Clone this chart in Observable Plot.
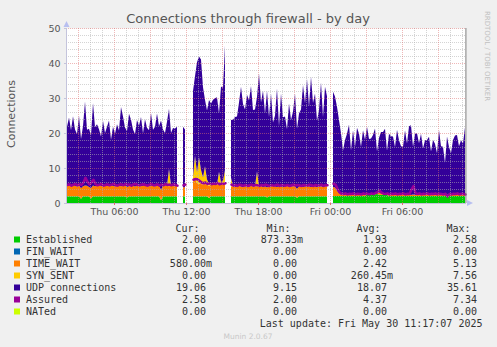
<!DOCTYPE html>
<html><head><meta charset="utf-8">
<script src="https://cdn.jsdelivr.net/npm/d3@7"></script>
<script src="https://cdn.jsdelivr.net/npm/@observablehq/plot@0.6"></script>
<style>
html,body{margin:0;padding:0;background:#f0f0f0;}
#wrap{position:relative;width:497px;height:347px;overflow:hidden;background:#f0f0f0;}
#wrap svg{position:absolute;left:0;top:0;}
</style></head><body><div id="wrap"></div>
<script>
// ---- time frame (10-minute samples) ----
const startTime = new Date(2025, 4, 29, 2, 0, 0);
const endTime = new Date(2025, 4, 30, 11, 20, 0);
const lastUpdate = new Date(2025, 4, 30, 11, 17, 7);
const sampleMinutes = 10;

// ---- series values (200 samples, null = no data) ----
const established = [
1.9,1.9,1.9,1.9,1.9,1.9,1.9,1.2,1.9,1.9,
1.9,1.9,1.3,1.9,1.9,1.9,1.9,1.9,1.9,1.9,
1.9,1.9,1.9,1.9,1.9,1.9,1.9,1.9,1.9,1.9,
1.6,1.9,1.9,1.9,1.9,1.9,1.9,1.9,1.9,1.9,
1.9,1.9,1.9,1.9,1.9,1.9,1.9,0.87,1.9,1.9,
1.9,1.9,1.9,1.9,1.9,1.9,null,null,1.9,1.9,
null,null,null,1.9,1.9,1.9,1.9,1.9,1.9,1.9,
1.9,1.4,1.9,1.9,1.9,1.9,1.9,1.9,1.9,1.9,
null,null,1.9,1.9,1.9,1.9,1.9,1.9,1.9,1.9,
1.9,1.9,1.9,1.9,1.9,1.9,1.9,1.9,1.9,1.9,
1.6,1.9,1.9,1.9,1.9,1.9,1.9,1.9,1.9,1.9,
1.9,1.9,1.9,1.9,1.9,1.5,1.9,1.9,1.9,1.9,
1.9,1.9,1.9,1.9,1.9,1.9,1.9,1.9,1.9,1.9,
1.9,null,null,2.0,2.0,2.0,2.0,2.0,2.0,2.0,
2.0,2.0,2.0,2.0,2.0,2.0,2.0,2.0,2.0,2.0,
2.4,2.4,2.3,2.4,2.5,2.58,2.4,2.3,2.4,2.4,
2.3,2.0,2.0,2.0,2.0,2.0,2.0,2.0,2.0,2.0,
2.0,2.0,2.0,2.0,2.0,2.0,2.0,2.0,2.0,2.0,
2.0,2.0,2.0,2.0,2.0,2.0,2.0,2.0,2.0,2.0,
2.0,2.0,2.0,2.0,2.0,2.0,2.0,2.0,2.0,2.00];

const finWait = established.map(v => v == null ? null : 0);

const timeWait = [
3.0,3.2,2.9,3.1,3.0,2.8,3.2,3.0,2.9,3.1,
3.0,2.7,3.0,3.1,2.9,3.0,3.2,3.0,2.8,3.1,
3.0,2.9,3.1,3.0,2.8,3.0,3.2,2.9,3.0,3.1,
3.0,2.9,3.1,3.0,2.8,3.0,3.1,2.9,3.0,3.2,
3.0,2.9,3.1,3.0,2.8,3.0,3.1,2.9,3.0,3.1,
3.0,2.9,3.1,3.0,2.9,3.0,null,null,2.6,2.6,
null,null,null,4.2,5.13,3.8,3.6,3.5,3.4,3.6,
3.3,3.5,3.4,3.6,3.5,3.3,3.5,3.6,3.4,3.5,
null,null,2.8,2.9,2.7,2.8,3.0,2.8,2.6,2.9,
2.8,2.7,3.0,2.8,2.9,2.7,2.8,3.0,2.6,2.8,
2.9,2.7,2.8,3.0,2.8,2.7,2.9,2.8,2.6,2.8,
3.0,2.7,2.8,2.9,2.8,2.6,2.8,2.9,2.7,2.8,
3.0,2.8,2.7,2.9,2.8,2.6,2.8,2.9,2.7,2.8,
2.9,null,null,2.6,2.4,1.5,0.8,0.4,0.3,0.4,
0.3,0.5,0.4,0.3,0.4,0.5,0.3,0.4,0.3,0.5,
0.4,0.3,0.5,0.4,0.3,0.4,0.6,0.5,0.4,0.3,
0.4,0.3,0.5,0.4,0.3,0.4,0.3,0.5,0.4,0.3,
0.4,0.5,0.3,0.4,0.3,0.4,0.5,0.3,0.4,0.3,
0.4,0.3,0.5,0.4,0.3,0.4,0.3,0.5,0.4,0.3,
0.4,0.3,0.5,0.4,0.3,0.4,0.5,0.3,0.4,0.58];

const synSent = [
0,0,0,0,0,0,0,0,0,0,
0,0,0,0,0,0,0,0,0,0,
0,0,0,0,0,0,0,0,0,0,
0,0,0,0,0,0,0,0,0,0,
0,0,0,0,0,0,0,0,0,0,
0,5.0,0,0,0,0,null,null,0,0,
null,null,null,1.5,6.5,3.0,7.56,4.0,2.0,5.0,
1.5,0.5,0,0,0,0,3.5,0.5,1.0,4.0,
null,null,2.5,0,0,0,0,0,0,0,
0,0,0,0,0,4.5,0,0,0,0,
0,0,0,0,0,0,0,0,0,0,
0,0,0,0,0,0,0,0,0,0,
0,0,0,0,0,0,0,0,0,0,
0,null,null,0,0,0,0,0,0,0,
0,0,0,0,0,0,0,0,0,0,
0,0,0,0,0,0,0,0,0,0,
0,0,0,0,0,0,0,0,0,0,
0,0,0,0,0,0,0,0,0,0,
0,0,0,0,0,0,0,0,0,0,
0,0,0,0,0,0,0,0,0,0];

const udpConnections = [
16.9,19.3,16.0,19.8,16.1,15.0,19.8,14.1,17.1,24.0,
16.0,16.6,15.0,23.6,16.9,17.6,16.0,14.1,18.8,15.0,
16.9,18.8,13.1,16.9,15.1,17.6,15.6,22.6,19.8,16.6,
16.0,20.7,18.8,16.1,15.0,18.8,17.1,19.8,15.0,18.8,
16.6,16.0,20.7,16.0,17.1,20.7,16.9,19.8,16.1,15.0,
18.3,17.1,15.0,16.5,16.5,16.9,null,null,17.3,16.5,
null,null,null,24.4,22.7,31.5,28.8,31.6,25.8,19.0,
19.7,24.0,23.1,24.0,24.5,25.0,16.7,27.3,26.6,35.61,
null,null,16.5,19.0,20.0,20.0,23.8,28.5,23.8,21.9,
26.2,24.7,28.5,21.9,21.9,21.2,32.3,23.8,27.6,20.9,
27.6,20.0,26.6,18.1,20.3,28.1,17.1,26.6,20.0,20.0,
16.2,23.8,19.0,21.3,26.6,17.1,20.9,21.9,29.1,23.8,
30.5,22.8,31.5,23.8,26.6,19.0,21.9,29.6,20.0,28.5,
25.7,null,null,27.2,26.0,24.0,20.9,17.5,12.7,15.6,
17.5,19.9,12.7,18.5,13.7,19.0,17.5,13.7,18.5,15.6,
19.0,15.6,15.6,16.6,18.5,11.8,15.6,17.5,17.5,18.5,
12.2,17.5,16.6,16.6,13.7,18.5,15.6,13.7,13.7,18.5,
14.6,19.4,19.9,13.7,17.5,17.5,14.6,17.5,13.2,15.6,
15.6,16.6,12.2,15.6,14.6,11.8,18.5,13.7,13.7,9.15,
16.6,13.7,11.8,15.6,17.0,17.0,13.7,15.6,14.6,19.06];

const assured = [
5.3,5.5,5.1,5.4,5.6,5.2,5.5,5.3,6.0,7.34,
6.2,5.4,6.0,6.8,5.5,5.2,5.4,5.6,5.1,5.3,
5.5,5.2,5.4,5.6,5.3,5.1,5.4,5.5,5.2,5.6,
5.3,5.4,5.1,5.5,5.6,5.3,5.2,5.4,5.5,5.3,
5.1,5.4,5.6,5.2,5.3,5.5,5.1,5.4,5.2,5.6,
5.3,5.4,5.2,5.5,5.3,5.1,null,null,5.2,5.4,
null,null,null,6.8,7.0,6.9,6.5,6.0,5.8,6.0,
5.6,5.8,5.5,5.7,5.6,5.9,5.5,5.7,5.6,5.8,
null,null,5.4,5.1,5.3,5.0,5.4,5.2,5.1,5.3,
5.0,5.2,5.4,5.1,5.3,5.2,5.0,5.3,5.1,5.4,
5.2,5.0,5.3,5.1,5.2,5.4,5.0,5.3,5.2,5.1,
5.3,5.0,5.2,5.4,5.1,5.3,5.2,5.0,5.3,5.2,
5.1,5.4,5.2,5.0,5.3,5.1,5.2,5.4,5.0,5.3,
5.2,null,null,5.6,5.4,4.2,3.2,2.8,2.7,2.9,
2.6,2.8,2.7,2.9,2.6,2.8,2.7,2.6,2.9,2.7,
2.8,2.6,2.9,2.7,3.0,3.2,3.7,3.1,2.8,2.7,
2.9,2.6,2.8,2.7,2.9,2.6,2.8,2.7,2.9,2.6,
2.8,2.7,4.0,5.0,3.0,2.7,2.9,2.6,2.8,2.7,
2.9,2.6,2.8,2.7,2.9,2.6,2.8,2.7,2.6,2.8,
2.0,2.7,2.6,2.8,2.7,2.9,2.6,2.8,2.7,2.58];

// ---- legend ----
const legendNames = ["Established","FIN_WAIT","TIME_WAIT","SYN_SENT","UDP connections","Assured","NATed"];
const legendColors = ["#00CC00","#0066B3","#FF8000","#FFCC00","#330099","#990099","#CCFF00"];
const curValues = ["2.00","0.00","580.00m","0.00","19.06","2.58","0.00"];
const minValues = ["873.33m","0.00","0.00","0.00","9.15","2.00","0.00"];
const avgValues = ["1.93","0.00","2.42","260.45m","18.07","4.37","0.00"];
const maxValues = ["2.58","0.00","5.13","7.56","35.61","7.34","0.00"];

// ---- axis ticks ----
const yTicks = [0,10,20,30,40,50];
const xTickTimes = ["2025-05-29T06:00","2025-05-29T12:00","2025-05-29T18:00","2025-05-30T00:00","2025-05-30T06:00"].map(s => new Date(s));

// ---- stacked layers (linear between samples, like RRD areas) ----
const stackLayers = [
  {values: established, color: "#00CC00"},
  {values: finWait, color: "#0066B3"},
  {values: timeWait, color: "#FF8000"},
  {values: synSent, color: "#FFCC00"},
  {values: udpConnections, color: "#330099"}
];
const stepMs = sampleMinutes * 60000;
const centerTime = i => new Date(+startTime + (i + 0.5) * stepMs);
const layerPts = stackLayers.map(() => []);
for (let i = 0; i < established.length; i++) {
  let base = 0;
  const ok = udpConnections[i] != null;
  stackLayers.forEach((L, k) => {
    const v = ok ? (L.values[i] || 0) : null;
    layerPts[k].push({t: centerTime(i), y1: ok ? base : NaN, y2: ok ? base + v : NaN});
    if (ok) base += v;
  });
}
const assuredPts = assured.map((v, i) => ({t: centerTime(i), v: v == null ? NaN : v}));

const minorY = d3.range(2, 50, 2).filter(v => v % 10 !== 0);
const majorY = [10,20,30,40,50];
const hours = d3.timeHour.range(new Date(+startTime + 1), endTime);
const minorX = hours.filter(h => h.getHours() % 3 !== 0);
const majorX = hours.filter(h => h.getHours() % 3 === 0);

const chart = Plot.plot({
  width: 497, height: 220,
  marginLeft: 66, marginRight: 31, marginTop: 28, marginBottom: 17,
  style: {background: "transparent", fontFamily: "DejaVu Sans", fontSize: "9.5px", color: "#555"},
  x: {type: "time", domain: [startTime, endTime]},
  y: {domain: [0, 50]},
  marks: [
    Plot.frame({fill: "white", stroke: null}),
    ...stackLayers.map((L, k) => Plot.areaY(layerPts[k], {x: "t", y1: "y1", y2: "y2", fill: L.color, curve: "linear"})),
    Plot.line(assuredPts, {x: "t", y: "v", stroke: "#990099", strokeWidth: 2.5}),
    Plot.ruleY(minorY, {stroke: "#b0b0b0", strokeOpacity: 0.55, strokeDasharray: "1,1"}),
    Plot.ruleX(minorX, {stroke: "#b0b0b0", strokeOpacity: 0.55, strokeDasharray: "1,1"}),
    Plot.ruleY(majorY, {stroke: "#e07070", strokeOpacity: 0.5, strokeDasharray: "1,1"}),
    Plot.ruleX(majorX, {stroke: "#e07070", strokeOpacity: 0.5, strokeDasharray: "1,1"}),
    Plot.ruleY([0], {stroke: "#c4c4dc"}),
    Plot.ruleX([startTime], {stroke: "#c4c4dc"}),
    Plot.ruleX([lastUpdate], {stroke: "#7a7a7a"}),
    Plot.axisY({ticks: yTicks, tickSize: 2, tickPadding: 4, stroke: "#c4c4dc", fill: "#555", label: null}),
    Plot.axisX({ticks: xTickTimes, tickFormat: d3.timeFormat("%a %H:%M"), tickSize: 2, tickPadding: 3, stroke: "#e07070", fill: "#555", label: null})
  ]
});
const wrap = d3.select("#wrap");
wrap.node().appendChild(chart);

// ---- overlay: title, labels, legend ----
const ov = wrap.append("svg").attr("width", 497).attr("height", 347).style("pointer-events", "none");
ov.append("text").attr("x", 248).attr("y", 23).attr("text-anchor", "middle")
  .attr("font-family", "DejaVu Sans").attr("font-size", 13).attr("fill", "#555")
  .text("Connections through firewall - by day");
ov.append("text").attr("transform", "translate(15,114) rotate(-90)").attr("text-anchor", "middle")
  .attr("font-family", "DejaVu Sans").attr("font-size", 11).attr("fill", "#555").text("Connections");
ov.append("text").attr("transform", "translate(485,56) rotate(90)").attr("text-anchor", "middle")
  .attr("font-family", "DejaVu Sans").attr("font-size", 7).attr("fill", "#c0c0c0").text("RRDTOOL / TOBI OETIKER");
// axis arrows
ov.append("path").attr("d", "M63.5,27 L66.5,21 L69.5,27 Z").attr("fill", "#b8bff0");
ov.append("path").attr("d", "M467,200 L473,203 L467,206 Z").attr("fill", "#b8bff0");

const mono = "DejaVu Sans Mono";
const colRight = [206, 297, 387, 477];
const headers = ["Cur:","Min:","Avg:","Max:"];
headers.forEach((h, j) => ov.append("text").attr("x", colRight[j] - 6.5).attr("y", 232).attr("text-anchor", "end")
  .attr("font-family", mono).attr("font-size", 10).attr("fill", "#333").text(h));
const cols = [curValues, minValues, avgValues, maxValues];
legendNames.forEach((name, r) => {
  const y = 243 + r * 12;
  ov.append("rect").attr("x", 14).attr("y", y - 6.5).attr("width", 6).attr("height", 6).attr("fill", legendColors[r]);
  ov.append("text").attr("x", 26).attr("y", y).attr("font-family", mono).attr("font-size", 10).attr("fill", "#333").text(name);
  cols.forEach((c, j) => {
    const s = c[r];
    const x = colRight[j] + (s.endsWith("m") ? 6.02 : 0);
    ov.append("text").attr("x", x).attr("y", y).attr("text-anchor", "end")
      .attr("font-family", mono).attr("font-size", 10).attr("fill", "#333").text(s);
  });
});
ov.append("text").attr("x", 482.5).attr("y", 327).attr("text-anchor", "end")
  .attr("font-family", mono).attr("font-size", 10).attr("fill", "#333").text("Last update: Fri May 30 11:17:07 2025");
ov.append("text").attr("x", 248).attr("y", 339).attr("text-anchor", "middle")
  .attr("font-family", "DejaVu Sans").attr("font-size", 7.5).attr("fill", "#c8c8c8").text("Munin 2.0.67");
</script></body></html>
